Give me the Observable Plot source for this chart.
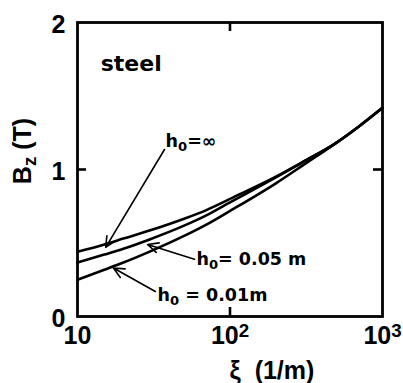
<!DOCTYPE html>
<html><head><meta charset="utf-8">
<script src="https://cdn.jsdelivr.net/npm/d3@7"></script>
<script src="https://cdn.jsdelivr.net/npm/@observablehq/plot@0.6"></script>
<style>
body{margin:0;background:#fff}
</style>
</head><body><div id="chart"></div>
<script>
// data
const xi   = [10, 15, 20, 30, 50, 70, 100, 200, 300, 500, 700, 1000];
const bInf = [0.44, 0.49, 0.53, 0.586, 0.665, 0.724, 0.80, 0.951, 1.051, 1.183, 1.293, 1.42];
const b005 = [0.367, 0.421, 0.461, 0.526, 0.618, 0.688, 0.776, 0.946, 1.05, 1.183, 1.293, 1.42];
const b001 = [0.25, 0.318, 0.367, 0.443, 0.548, 0.625, 0.718, 0.906, 1.028, 1.183, 1.293, 1.42];
const seriesLabels = ["h_0=∞", "h_0= 0.05 m", "h_0 = 0.01m"];
const labelX = [37.8, 60.3, 33.5];
const labelY = [1.19, 0.388, 0.143];
const arrowX1 = [37.2, 58.5, 32.4];
const arrowY1 = [1.136, 0.39, 0.17];
const arrowX2 = [15.3, 28.8, 17.2];
const arrowY2 = [0.47, 0.49, 0.33];
const xTicks = [10, 100, 1000];
const xTickLabels = ["10", "10^2", "10^3"];
const yTicks = [0, 1, 2];
const materialLabel = "steel";
const xLabel = "ξ  (1/m)";
const yLabel = "B_z (T)";

const series = [bInf, b005, b001];
const rows = series.flatMap((s, k) => s.map((v, i) => ({x: xi[i], y: v, k})));
const labels = seriesLabels.map((t, i) => ({t, x: labelX[i], y: labelY[i]}));
const arrows = arrowX1.map((x1, i) => ({x1, y1: arrowY1[i], x2: arrowX2[i], y2: arrowY2[i]}));

const W = 403, H = 383, mL = 77, mR = 21, mT = 22, mB = 67;
const pw = W - mL - mR, ph = H - mT - mB;
const narrow = '"Liberation Sans Narrow", "Liberation Sans", Arial, sans-serif';
const wide = '"DejaVu Sans", sans-serif';

const chart = Plot.plot({
  width: W, height: H,
  marginLeft: mL, marginRight: mR, marginTop: mT, marginBottom: mB,
  x: {type: "log", domain: [10, 1000]},
  y: {domain: [0, 2]},
  style: {fontFamily: wide, color: "#000", background: "#fff"},
  marks: [
    Plot.line(rows, {x: "x", y: "y", z: "k", curve: "monotone-x", stroke: "#000", strokeWidth: 2.6}),
    Plot.frame({stroke: "#000", strokeWidth: 2.8}),
    Plot.ruleX([xTicks[1]], {insetTop: ph - 9, strokeWidth: 2.6}),
    Plot.ruleX([xTicks[1]], {insetBottom: ph - 9, strokeWidth: 2.6}),
    Plot.ruleY([yTicks[1]], {insetRight: pw - 9, strokeWidth: 2.6}),
    Plot.ruleY([yTicks[1]], {insetLeft: pw - 9, strokeWidth: 2.6}),
    Plot.axisX(xTicks, {tickSize: 0, tickPadding: 10, fontSize: 25, fontWeight: "bold", fontFamily: narrow, label: null,
      tickFormat: d => xTickLabels[xTicks.indexOf(d)]}),
    Plot.axisY(yTicks, {tickSize: 0, tickPadding: 12, fontSize: 25, fontWeight: "bold", fontFamily: narrow, label: null, dy: 2,
      tickFormat: d => String(d)}),
    Plot.arrow(arrows, {x1: "x1", y1: "y1", x2: "x2", y2: "y2", stroke: "#000", strokeWidth: 1.6, headLength: 11, headAngle: 50}),
    Plot.text(labels, {x: "x", y: "y", text: "t", textAnchor: "start", fontSize: 17.5, fontWeight: "bold", fill: "#000"}),
    Plot.text([materialLabel], {x: 14.2, y: 1.72, text: d => d, textAnchor: "start", fontSize: 22, fontWeight: "bold", fill: "#000"})
  ]
});

const svg = d3.select(chart);
svg.append("text")
  .attr("transform", `translate(22,151) rotate(-90)`)
  .attr("text-anchor", "middle").attr("dy", "0.35em")
  .attr("font-family", narrow)
  .attr("font-size", 25).attr("font-weight", "bold").attr("fill", "#000")
  .style("white-space", "pre")
  .text(yLabel);
svg.append("text")
  .attr("x", 272).attr("y", 370)
  .attr("text-anchor", "middle").attr("dy", "0.35em")
  .attr("font-family", narrow)
  .attr("font-size", 25).attr("font-weight", "bold").attr("fill", "#000")
  .style("white-space", "pre")
  .text(xLabel);

// rich text: _x subscript, ^x superscript
chart.querySelectorAll("text").forEach(t => {
  const s = t.textContent;
  if (!/[_^]/.test(s)) return;
  while (t.firstChild) t.removeChild(t.firstChild);
  const ns = "http://www.w3.org/2000/svg";
  let i = 0, buf = "", pendingDy = 0;
  const flush = (txt, dyv, small) => {
    if (!txt) return;
    const sp = document.createElementNS(ns, "tspan");
    sp.textContent = txt;
    if (dyv) sp.setAttribute("dy", dyv + "em");
    if (small) sp.setAttribute("font-size", "75%");
    t.appendChild(sp);
  };
  while (i < s.length) {
    const c = s[i];
    if (c === "_" || c === "^") {
      flush(buf, pendingDy, false); pendingDy = 0; buf = "";
      const d = c === "_" ? 0.3 : -0.4;
      flush(s[i + 1], d, true);
      pendingDy = -d * 0.75;
      i += 2;
    } else { buf += c; i++; }
  }
  flush(buf, pendingDy, false);
});

document.getElementById("chart").appendChild(chart);
</script>
</body></html>
